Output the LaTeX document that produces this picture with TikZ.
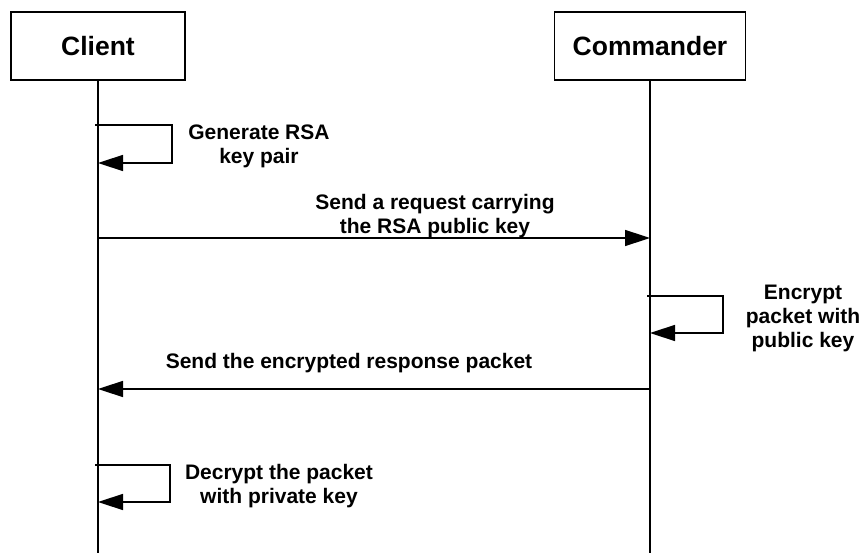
\documentclass[tikz,border=0pt]{standalone}
\usepackage{fontspec}
\setmainfont{Liberation Sans}
\usetikzlibrary{arrows.meta}
\begin{document}
\begin{tikzpicture}[x=1pt,y=-1pt,
  actor/.style={draw, line width=1.6pt, minimum height=68pt, inner sep=0pt,
    font=\fontsize{26.5}{30}\selectfont\bfseries},
  lbl/.style={font=\fontsize{21}{24}\selectfont\bfseries, align=center, inner sep=0pt},
  life/.style={line width=1.6pt},
  msg/.style={line width=1.5pt, -{Triangle[length=25pt,width=16pt]}}]
\useasboundingbox (0,0) rectangle (865,553);

% participants
\node[actor, minimum width=174pt] (client) at (98,46) {Client};
\node[actor, minimum width=191pt] (commander) at (650,46) {Commander};

% lifelines
\coordinate (clientend) at (98,553);
\coordinate (commanderend) at (650,553);
\draw[life] (client.south) -- (clientend);
\draw[life] (commander.south) -- (commanderend);

% anchor points on the lifelines (self-calls start just left of the line)
\coordinate (g1s) at (95,125);
\coordinate (g1e) at (98,163);
\coordinate (m1s) at (98,238);
\coordinate (m1e) at (650,238);
\coordinate (e2s) at (647,296);
\coordinate (e2e) at (650,333);
\coordinate (m2s) at (650,389);
\coordinate (m2e) at (98,389);
\coordinate (d3s) at (95,465);
\coordinate (d3e) at (98,502);

% messages
\draw[msg] (g1s) -- ++(77,0) |- (g1e);
\draw[msg] (m1s) -- (m1e);
\draw[msg] (e2s) -- ++(76,0) |- (e2e);
\draw[msg] (m2s) -- (m2e);
\draw[msg] (d3s) -- ++(75,0) |- (d3e);

% labels
\node[lbl] (t1) at (259,146) {Generate RSA\\key pair};
\node[lbl] (t2) at (435,216) {Send a request carrying\\the RSA public key};
\node[lbl] (t3) at (803,318) {Encrypt\\packet with\\public key};
\node[lbl] (t4) at (349,363) {Send the encrypted response packet};
\node[lbl] (t5) at (279,486) {Decrypt the packet\\with private key};
\end{tikzpicture}
\end{document}
